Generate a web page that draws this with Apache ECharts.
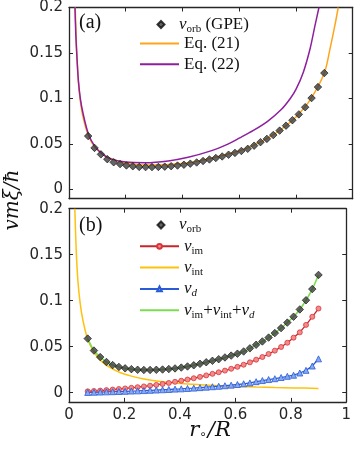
<!DOCTYPE html>
<html>
<head>
<meta charset="utf-8">
<script src="https://cdn.jsdelivr.net/npm/echarts@6/dist/echarts.min.js"></script>
<style>html,body{margin:0;padding:0;background:#fff}#c{width:354px;height:449px}</style>
</head>
<body>
<div id="c"></div>
<script>
// ---- data ----
const rGPE = [0.0675,0.09,0.1125,0.135,0.1575,0.18,0.2025,0.225,0.2475,0.27,0.2925,0.315,0.3375,0.36,0.3825,0.405,0.4275,0.45,0.4725,0.495,0.5175,0.54,0.5625,0.585,0.6075,0.63,0.6525,0.675,0.6975,0.72,0.7425,0.765,0.7875,0.81,0.8325,0.855,0.8775,0.9];
const vOrb = [0.0588,0.0458,0.0387,0.0334,0.0300,0.0280,0.0265,0.0256,0.0249,0.0247,0.0247,0.0249,0.0252,0.0257,0.0264,0.0273,0.0285,0.0298,0.0314,0.0331,0.0347,0.0364,0.0383,0.0403,0.0424,0.0448,0.0482,0.0521,0.0557,0.0599,0.0648,0.0702,0.0762,0.0826,0.0905,0.1005,0.1126,0.1280];
const vSum = [0.0588,0.0458,0.0387,0.0334,0.0300,0.0280,0.0265,0.0256,0.0249,0.0247,0.0247,0.0249,0.0252,0.0257,0.0264,0.0273,0.0285,0.0298,0.0314,0.0331,0.0347,0.0364,0.0383,0.0403,0.0424,0.0448,0.0482,0.0521,0.0557,0.0599,0.0648,0.0702,0.0762,0.0826,0.0905,0.1005,0.1126,0.1280];
const vIm = [0.0015,0.0019,0.0023,0.0028,0.0034,0.0040,0.0046,0.0053,0.0060,0.0068,0.0076,0.0085,0.0095,0.0106,0.0118,0.0130,0.0143,0.0157,0.0172,0.0188,0.0205,0.0222,0.0240,0.0260,0.0281,0.0304,0.0330,0.0359,0.0388,0.0421,0.0457,0.0497,0.0543,0.0598,0.0656,0.0737,0.0825,0.0915];
const vD = [0.0003,0.0005,0.0007,0.0009,0.0011,0.0013,0.0015,0.0018,0.0020,0.0023,0.0026,0.0029,0.0032,0.0035,0.0039,0.0042,0.0046,0.0050,0.0055,0.0060,0.0065,0.0070,0.0076,0.0082,0.0089,0.0097,0.0106,0.0120,0.0132,0.0143,0.0152,0.0165,0.0178,0.0190,0.0214,0.0243,0.0290,0.0368];
const rInt = [0.021,0.026,0.032,0.04,0.05,0.0675,0.09,0.1125,0.135,0.18,0.225,0.27,0.3375,0.405,0.4725,0.54,0.6075,0.675,0.7425,0.81,0.9];
const vInt = [0.2,0.155,0.122,0.098,0.079,0.058,0.044,0.0355,0.0298,0.0225,0.018,0.0149,0.0119,0.0099,0.0086,0.0075,0.0067,0.0061,0.0056,0.0052,0.0047];
const rEq21 = [0.022,0.025,0.029,0.034,0.04,0.05,0.0675,0.09,0.1125,0.135,0.18,0.225,0.27,0.315,0.36,0.405,0.45,0.5,0.55,0.6,0.65,0.7,0.75,0.8,0.85,0.9,0.92,0.937,0.949];
const vEq21 = [0.2,0.17,0.14,0.115,0.097,0.079,0.06,0.047,0.0405,0.036,0.0305,0.0278,0.027,0.0271,0.0278,0.029,0.031,0.0345,0.0383,0.0425,0.0485,0.0565,0.0668,0.0798,0.0985,0.128,0.1545,0.18,0.2];
const rEq22 = [0.021,0.024,0.028,0.033,0.04,0.05,0.0675,0.09,0.12,0.15,0.2,0.27,0.35,0.42,0.5,0.56,0.6,0.65,0.7,0.75,0.78,0.8,0.826,0.85,0.867,0.881];
const vEq22 = [0.2,0.17,0.145,0.12,0.1,0.083,0.062,0.048,0.0385,0.0335,0.0302,0.0295,0.0315,0.0355,0.0425,0.05,0.0565,0.065,0.075,0.0885,0.1,0.11,0.129,0.155,0.18,0.2];
const xTicks = [0,0.2,0.4,0.6,0.8,1];
const yTicks = [0,0.05,0.1,0.15,0.2];

const pairs = (xs, ys) => xs.map((x, i) => [x, ys[i]]);

const AX = '#262626';
const tickFont = {fontFamily: 'DejaVu Sans', fontSize: 15, color: AX};
const G = {left: 69, width: 283.7, height: 193.2};
const grids = [Object.assign({top: 5.5}, G), Object.assign({top: 208.7}, G)];

function xAx(gi, bottom, labels) {
  return {
    type: 'value', gridIndex: gi, min: 0, max: 1, interval: 0.2,
    position: bottom ? 'bottom' : 'top',
    axisLine: {show: true, onZero: false, lineStyle: {color: AX, width: 1.3}},
    axisTick: {show: true, inside: true, length: 4, customValues: xTicks, lineStyle: {color: AX, width: 1}},
    axisLabel: {show: labels, margin: 6, customValues: xTicks, ...tickFont, formatter: v => String(+v.toFixed(1))},
    splitLine: {show: false}
  };
}
function yAx(gi, left, labels) {
  return {
    type: 'value', gridIndex: gi, min: -0.01, max: 0.2,
    position: left ? 'left' : 'right',
    axisLine: {show: true, onZero: false, lineStyle: {color: AX, width: 1.3}},
    axisTick: {show: true, inside: true, length: 4, customValues: yTicks, lineStyle: {color: AX, width: 1}},
    axisLabel: {show: labels, margin: 6, customValues: yTicks, ...tickFont, formatter: v => String(+v.toFixed(2))},
    splitLine: {show: false}
  };
}

const serif = 'Liberation Serif';
const rich = {
  g: {width: 9.5, fontSize: 17, lineHeight: 20},
  v: {fontFamily: serif, fontStyle: 'italic', fontSize: 17, lineHeight: 20, color: '#111'},
  s: {fontFamily: serif, fontSize: 11, lineHeight: 20, padding: [9, 0, 0, 0], color: '#111'},
  si: {fontFamily: serif, fontStyle: 'italic', fontSize: 11, lineHeight: 20, padding: [9, 0, 0, 0], color: '#111'},
  r: {fontFamily: serif, fontSize: 17, lineHeight: 20, color: '#111'}
};
const legendText = {
  'vorb (GPE)': '{g|}{v|v}{s|orb}{r| (GPE)}',
  'Eq. (21)': '{r|Eq. (21)}',
  'Eq. (22)': '{r|Eq. (22)}',
  'vorb': '{g|}{v|v}{s|orb}',
  'vim': '{v|v}{s|im}',
  'vint': '{v|v}{s|int}',
  'vd': '{v|v}{si|d}',
  'sum': '{v|v}{s|im}{r|+}{v|v}{s|int}{r|+}{v|v}{si|d}'
};
function legend(top, left, w, h, gap, data) {
  return {
    orient: 'vertical', left: left, top: top, padding: 0,
    itemWidth: w, itemHeight: h, itemGap: gap,
    data: data, selectedMode: false,
    formatter: n => legendText[n],
    textStyle: {rich: rich, fontSize: 17, lineHeight: 20}
  };
}
const hideMark = n => ({name: n, itemStyle: {opacity: 0, color: 'rgba(0,0,0,0)', borderColor: 'rgba(0,0,0,0)'}});

const diamond = (gi, name) => ({
  name: name, type: 'scatter', xAxisIndex: gi * 2, yAxisIndex: gi * 2,
  data: pairs(rGPE, vOrb), symbol: 'diamond', symbolSize: 7.5, z: 5,
  itemStyle: {color: '#3d3d3d', borderColor: '#0d0d0d', borderWidth: 0.8}
});
const plain = (gi, name, xs, ys, color, w) => ({
  name: name, type: 'line', xAxisIndex: gi * 2, yAxisIndex: gi * 2,
  data: pairs(xs, ys), symbol: 'none', smooth: 0.3, clip: true,
  lineStyle: {color: color, width: w}, itemStyle: {color: color}
});

const option = {
  animation: false,
  grid: grids,
  xAxis: [xAx(0, true, false), xAx(0, false, false), xAx(1, true, true), xAx(1, false, false)],
  yAxis: [yAx(0, true, true), yAx(0, false, false), yAx(1, true, true), yAx(1, false, false)],
  legend: [
    legend(14.5, 156.5, 7, 7, 0, ['vorb (GPE)']),
    legend(33.5, 139, 39, 6, 0.8, [hideMark('Eq. (21)'), hideMark('Eq. (22)')]),
    legend(215, 156.5, 7, 7, 0, ['vorb']),
    legend(236.3, 139, 39, 6, 1.3, ['vim', hideMark('vint'), 'vd', hideMark('sum')])
  ],
  series: [
    plain(0, 'Eq. (21)', rEq21, vEq21, '#FFA51C', 1.5),
    plain(0, 'Eq. (22)', rEq22, vEq22, '#8E1F9E', 1.5),
    diamond(0, 'vorb (GPE)'),
    plain(1, 'vint', rInt, vInt, '#FFC20C', 1.5),
    {
      name: 'vim', type: 'line', xAxisIndex: 2, yAxisIndex: 2, data: pairs(rGPE, vIm),
      symbol: 'circle', symbolSize: 5, showSymbol: true,
      lineStyle: {color: '#C8242B', width: 1.3},
      itemStyle: {color: '#F28B8B', borderColor: '#D8353A', borderWidth: 0.8}
    },
    {
      name: 'vd', type: 'line', xAxisIndex: 2, yAxisIndex: 2, data: pairs(rGPE, vD),
      symbol: 'triangle', symbolSize: 6, showSymbol: true,
      lineStyle: {color: '#2A5BD7', width: 1.3},
      itemStyle: {color: '#86A8EE', borderColor: '#2A5BD7', borderWidth: 0.8}
    },
    plain(1, 'sum', rGPE, vSum, '#7DDC4F', 1.6),
    diamond(1, 'vorb')
  ],
  graphic: [
    {type: 'text', left: 79, top: 13, style: {text: '(a)', font: '20px "Liberation Serif"', fill: '#111'}},
    {type: 'text', left: 79, top: 216, style: {text: '(b)', font: '20px "Liberation Serif"', fill: '#111'}},
    {type: 'text', x: 13, y: 200, rotation: Math.PI / 2,
     style: {text: 'vmξ/ħ', font: 'italic 20px "DejaVu Serif"', fill: '#111', align: 'center', verticalAlign: 'middle'}},
    {type: 'text', x: 210, y: 431,
     style: {text: '{i|r}{s|∘}{i|/R}', align: 'center', verticalAlign: 'middle',
       rich: {i: {font: 'italic 21px "DejaVu Serif"', fill: '#111', lineHeight: 24},
              s: {font: '12px "DejaVu Sans"', fill: '#111', lineHeight: 24, padding: [8, 1, 0, 0]}}}}
  ]
};
echarts.init(document.getElementById('c'), null, {renderer: 'canvas'}).setOption(option);
</script>
</body>
</html>
